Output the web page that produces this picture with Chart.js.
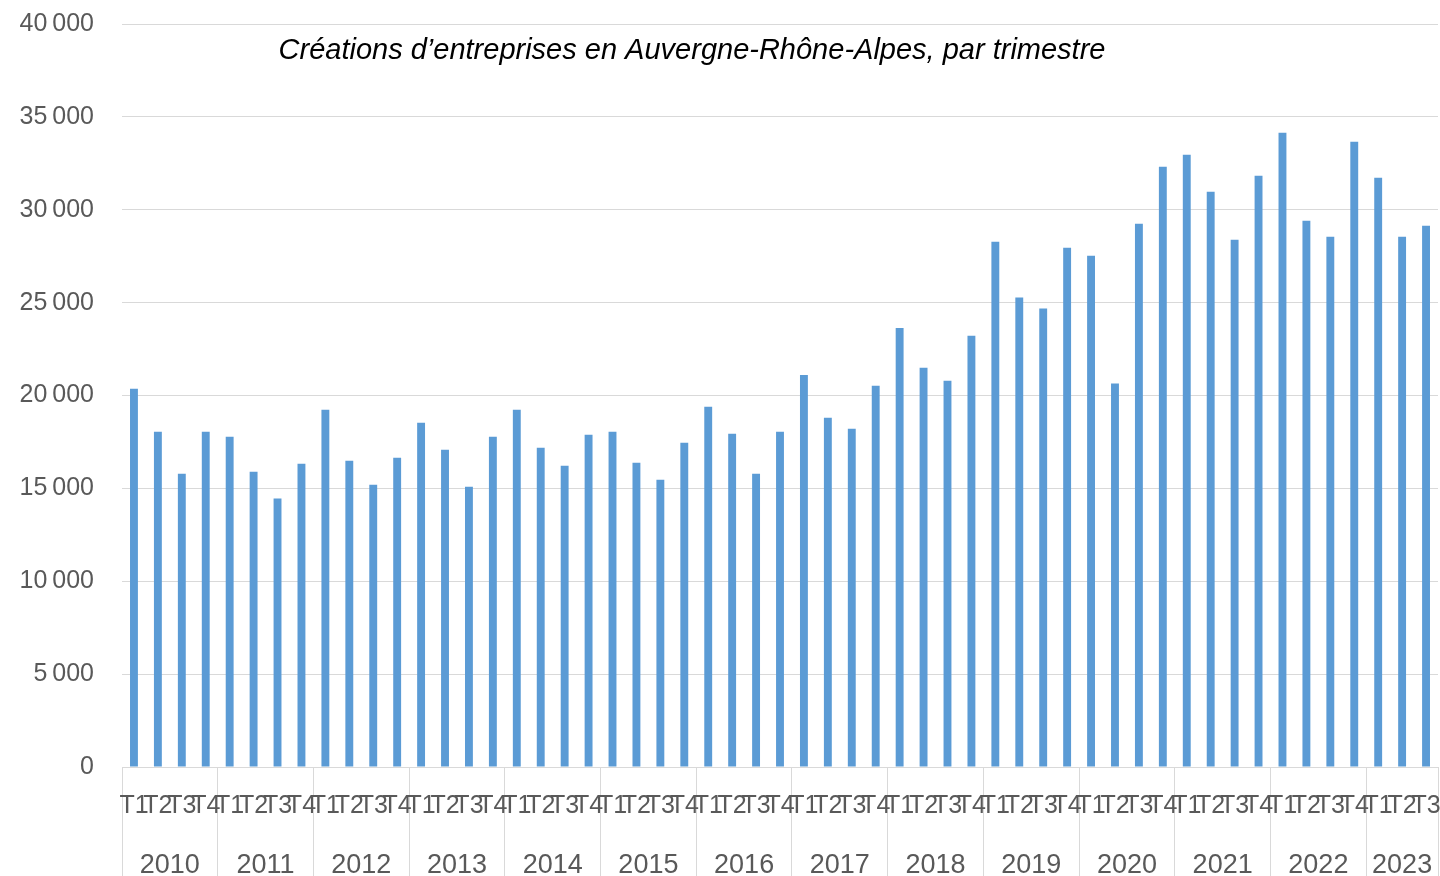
<!DOCTYPE html>
<html lang="fr">
<head>
<meta charset="UTF-8">
<title>Créations d’entreprises en Auvergne-Rhône-Alpes</title>
<script src="https://cdn.jsdelivr.net/npm/chart.js@4.4.0/dist/chart.umd.min.js"></script>
<style>
    body { margin: 0; background: #ffffff; }
    .wrap { width: 1440px; height: 876px; position: relative; }
</style>
</head>
<body>
<div class="wrap"><canvas id="chart"></canvas></div>
<script>
// Données : créations d'entreprises par trimestre
const years = ['2010', '2011', '2012', '2013', '2014', '2015', '2016', '2017', '2018', '2019', '2020', '2021', '2022', '2023'];
const quarters = ['T1', 'T2', 'T3', 'T4'];
const quartersPerYear = [4, 4, 4, 4, 4, 4, 4, 4, 4, 4, 4, 4, 4, 3];
const creations = [
    20360, 18050, 15790, 18050,
    17780, 15900, 14450, 16330,
    19230, 16490, 15200, 16650,
    18530, 17080, 15090, 17780,
    19230, 17190, 16220, 17890,
    18050, 16380, 15470, 17460,
    19390, 17940, 15790, 18050,
    21110, 18800, 18210, 20520,
    23640, 21490, 20790, 23210,
    28280, 25270, 24680, 27960,
    27530, 20640, 29250, 32310,
    32960, 30970, 28390, 31830,
    34140, 29410, 28550, 33660,
    31720, 28550, 29140
];
const yTicks = [0, 5000, 10000, 15000, 20000, 25000, 30000, 35000, 40000];

const titre = 'Créations d’entreprises en Auvergne-Rhône-Alpes, par trimestre';

// étiquettes trimestre + position du milieu de chaque année
const labels = [];
const yearCenters = [];
let idx = 0;
years.forEach((y, i) => {
    const n = quartersPerYear[i];
    for (let q = 0; q < n; q++) labels.push(quarters[q]);
    yearCenters.push(idx + (n - 1) / 2);
    idx += n;
});

const gray = '#595959';
const gridColor = '#d9d9d9';

const fmt = v => String(v).replace(/\B(?=(\d{3})+(?!\d))/g, '\u202f');

// pas de marge automatique ajoutée par les étiquettes
const noPad = s => { s.paddingTop = 0; s.paddingBottom = 0; s.paddingLeft = 0; s.paddingRight = 0; };

const titlePlugin = {
    id: 'titreInterne',
    afterDraw(chart) {
        const ctx = chart.ctx;
        ctx.save();
        ctx.font = 'italic 29px "Liberation Sans", Arial, sans-serif';
        ctx.fillStyle = '#000000';
        ctx.textAlign = 'center';
        ctx.textBaseline = 'alphabetic';
        ctx.fillText(titre, 692, 59);
        ctx.restore();
    }
};

new Chart(document.getElementById('chart'), {
    type: 'bar',
    data: {
        labels: labels,
        datasets: [{
            data: creations,
            backgroundColor: '#5b9bd5',
            barPercentage: 0.33,
            categoryPercentage: 1
        }]
    },
    options: {
        responsive: true,
        maintainAspectRatio: false,
        animation: false,
        layout: { padding: { top: 24, right: 2, bottom: 0, left: 0 } },
        plugins: {
            legend: { display: false },
            tooltip: { enabled: false }
        },
        scales: {
            y: {
                min: 0,
                max: 40000,
                afterBuildTicks: s => { s.ticks = yTicks.map(v => ({ value: v })); },
                afterFit: s => { s.width = 122; noPad(s); },
                border: { display: false },
                grid: { color: gridColor, lineWidth: 1, drawTicks: false },
                ticks: {
                    padding: 28,
                    color: gray,
                    font: { family: '"Liberation Sans", Arial, sans-serif', size: 25 },
                    callback: v => fmt(v)
                }
            },
            x: {
                position: 'bottom',
                offset: true,
                afterFit: s => { s.height = 74; noPad(s); },
                border: { display: true, color: gridColor, width: 1 },
                grid: {
                    offset: true,
                    drawOnChartArea: false,
                    drawTicks: true,
                    tickLength: 109,
                    color: c => (c.index === undefined || c.index % 4 === 0) ? gridColor : 'rgba(0,0,0,0)'
                },
                ticks: {
                    autoSkip: false,
                    maxRotation: 0,
                    minRotation: 0,
                    padding: -85,
                    color: gray,
                    font: { family: '"Liberation Sans", Arial, sans-serif', size: 25 }
                }
            },
            annees: {
                type: 'linear',
                position: 'bottom',
                offset: false,
                bounds: 'data',
                min: -0.5,
                max: creations.length - 0.5,
                afterBuildTicks: s => { s.ticks = yearCenters.map(v => ({ value: v })); },
                afterFit: s => { s.height = 35; noPad(s); },
                border: { display: false },
                grid: { display: false },
                ticks: {
                    autoSkip: false,
                    maxRotation: 0,
                    minRotation: 0,
                    padding: 0,
                    color: gray,
                    font: { family: '"Liberation Sans", Arial, sans-serif', size: 27 },
                    callback: (v, i) => years[i]
                }
            }
        }
    },
    plugins: [titlePlugin]
});
</script>
</body>
</html>
